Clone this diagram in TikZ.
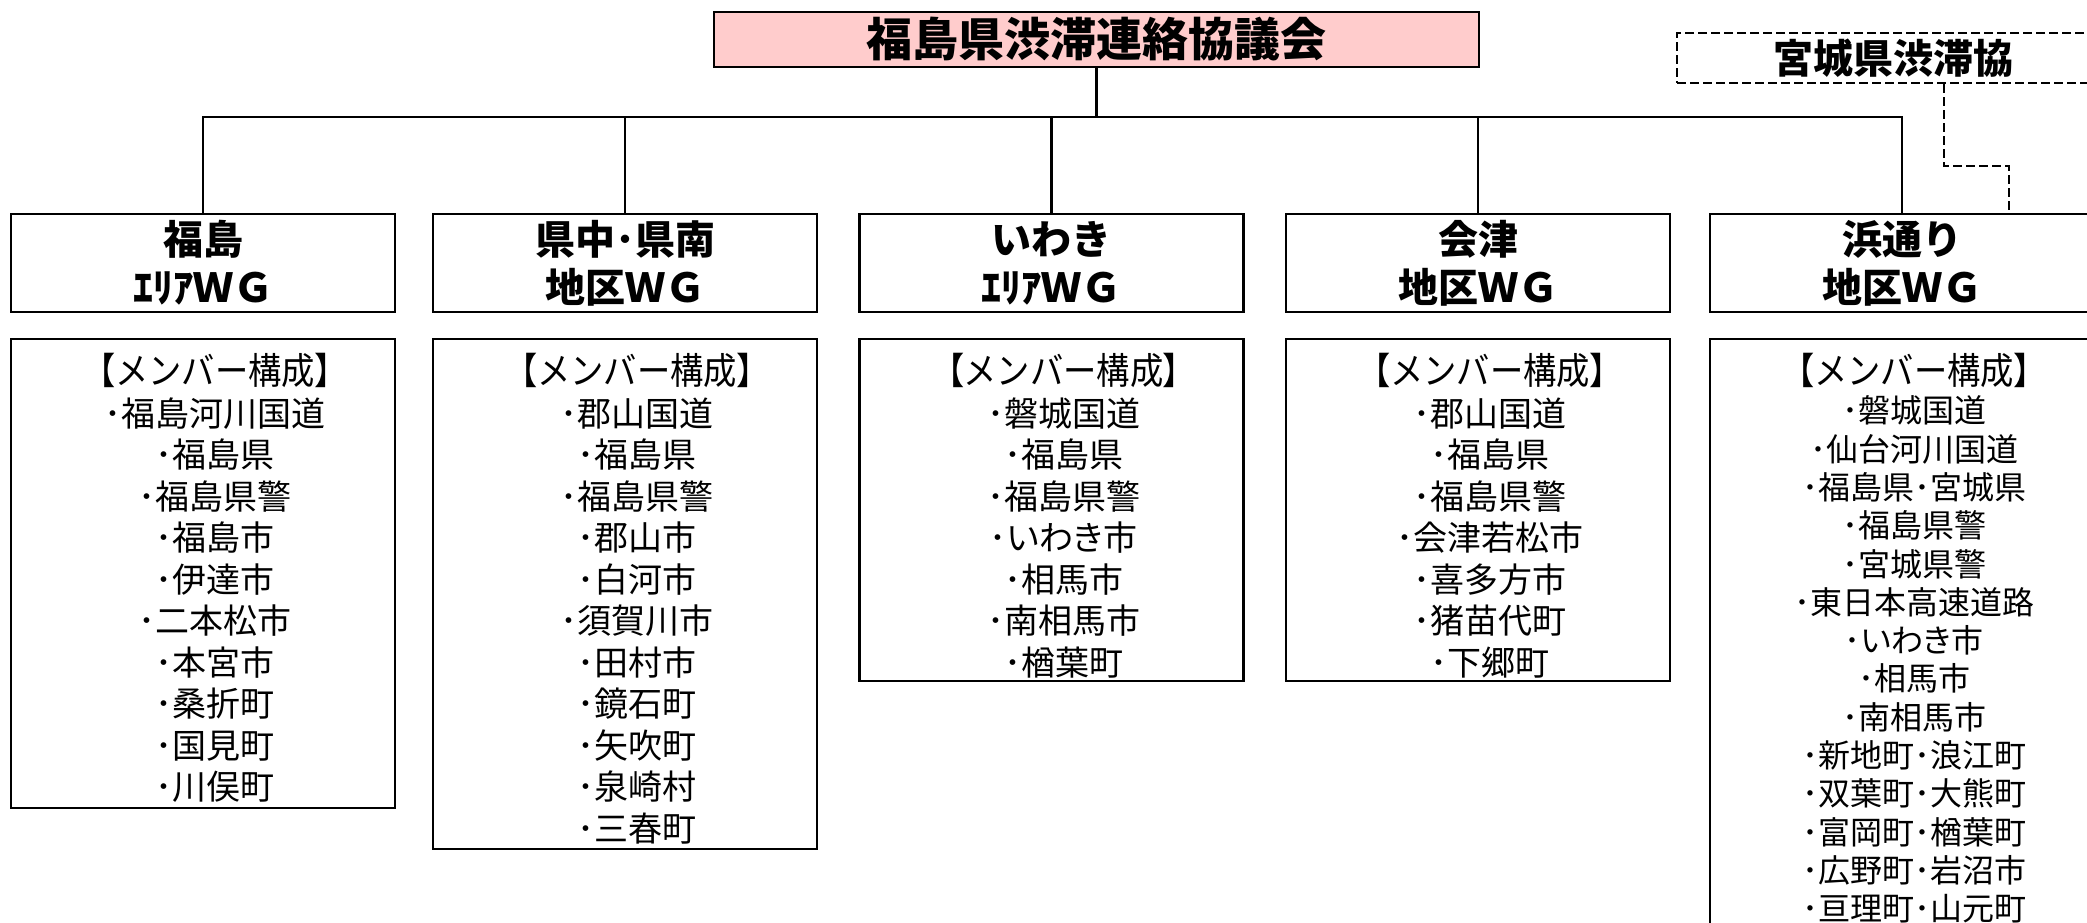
\documentclass[tikz,border=0pt]{standalone}
\usepackage{fontspec}
\setmainfont{Noto Sans CJK JP}
\newfontfamily\jpp{Noto Sans CJK JP}[RawFeature=+palt]
\newfontfamily\jph{Noto Sans CJK JP}[FakeStretch=0.9]
\newfontfamily\jphp{Noto Sans CJK JP}[FakeStretch=0.9,RawFeature=+palt]
\newcommand{\memhdr}{{\fontsize{37}{41.5}\selectfont{\jphp【}{\jph メンバー構成}{\jphp】}}}
\definecolor{pinkfill}{HTML}{FFCCCC}
\begin{document}
\begin{tikzpicture}[x=1pt,y=-1pt,
  ln/.style={line width=2.5pt},
  dashline/.style={line width=2.5pt, dash pattern=on 9pt off 4pt},
  wg/.style={draw, ln, minimum width=384pt, minimum height=98pt, align=center, inner sep=0pt, font=\fontsize{40}{48}\selectfont\bfseries},
  mbox/.style={draw, ln, minimum width=384pt, inner sep=0pt},
  mlist/.style={align=center, inner sep=0pt, anchor=north, font=\jpp\fontsize{34}{41.5}\selectfont},
  mlistb/.style={align=center, inner sep=0pt, anchor=north, font=\jpp\fontsize{32}{38.3}\selectfont}]
\useasboundingbox (0,0) rectangle (2087,922);
\clip (0,0) rectangle (2087,922);
\fill[white] (0,0) rectangle (2087,922);

\node[draw, ln, fill=pinkfill, minimum width=765pt, minimum height=55pt, inner sep=0pt, font=\fontsize{46}{50}\selectfont\bfseries] (top) at (1096.5,39.5) {福島県渋滞連絡協議会};
\node[draw, dashline, minimum width=432pt, minimum height=50pt, inner sep=0pt, font=\fontsize{40}{44}\selectfont\bfseries] (miyagi) at (1893,58) {宮城県渋滞協};

\node[wg] (w1) at (203,263) {福島\\ｴﾘｱＷＧ};
\node[wg] (w2) at (625,263) {県中･県南\\地区ＷＧ};
\node[wg] (w3) at (1051.5,263) {いわき\\ｴﾘｱＷＧ};
\node[wg] (w4) at (1478,263) {会津\\地区ＷＧ};
\node[wg] (w5) at (1902,263) {浜通り\\地区ＷＧ};

\node[mbox, minimum height=469pt] (m1) at (203,573.5) {};
\node[mbox, minimum height=510pt] (m2) at (625,594) {};
\node[mbox, minimum height=342pt] (m3) at (1051.5,510) {};
\node[mbox, minimum height=342pt] (m4) at (1478,510) {};
\node[mbox, minimum height=621pt] (m5) at (1902,649.5) {};

\node[mlist] (l1) at (215,353) {\memhdr\\･福島河川国道\\･福島県\\･福島県警\\･福島市\\･伊達市\\･二本松市\\･本宮市\\･桑折町\\･国見町\\･川俣町};
\node[mlist] (l2) at (637,353) {\memhdr\\･郡山国道\\･福島県\\･福島県警\\･郡山市\\･白河市\\･須賀川市\\･田村市\\･鏡石町\\･矢吹町\\･泉崎村\\･三春町};
\node[mlist] (l3) at (1063.5,353) {\memhdr\\･磐城国道\\･福島県\\･福島県警\\･いわき市\\･相馬市\\･南相馬市\\･楢葉町};
\node[mlist] (l4) at (1490,353) {\memhdr\\･郡山国道\\･福島県\\･福島県警\\･会津若松市\\･喜多方市\\･猪苗代町\\･下郷町};
\node[mlistb] (l5) at (1914,353) {\memhdr\\･磐城国道\\･仙台河川国道\\･福島県･宮城県\\･福島県警\\･宮城県警\\･東日本高速道路\\･いわき市\\･相馬市\\･南相馬市\\･新地町･浪江町\\･双葉町･大熊町\\･富岡町･楢葉町\\･広野町･岩沼市\\･亘理町･山元町};

\coordinate (bar) at (1096.5,117);
\draw[ln] (top.south) -- (bar);
\draw[ln] (w1.north) -- (w1.north |- bar) -- (w5.north |- bar) -- (w5.north);
\foreach \n in {w2,w3,w4} \draw[ln] (\n.north) -- (\n.north |- bar);
\coordinate (d1) at (1944,166);
\coordinate (d2) at (2009,166);
\draw[dashline] (miyagi.south -| d1) -- (d1) -- (d2) -- (d2 |- w5.north);
\end{tikzpicture}
\end{document}
